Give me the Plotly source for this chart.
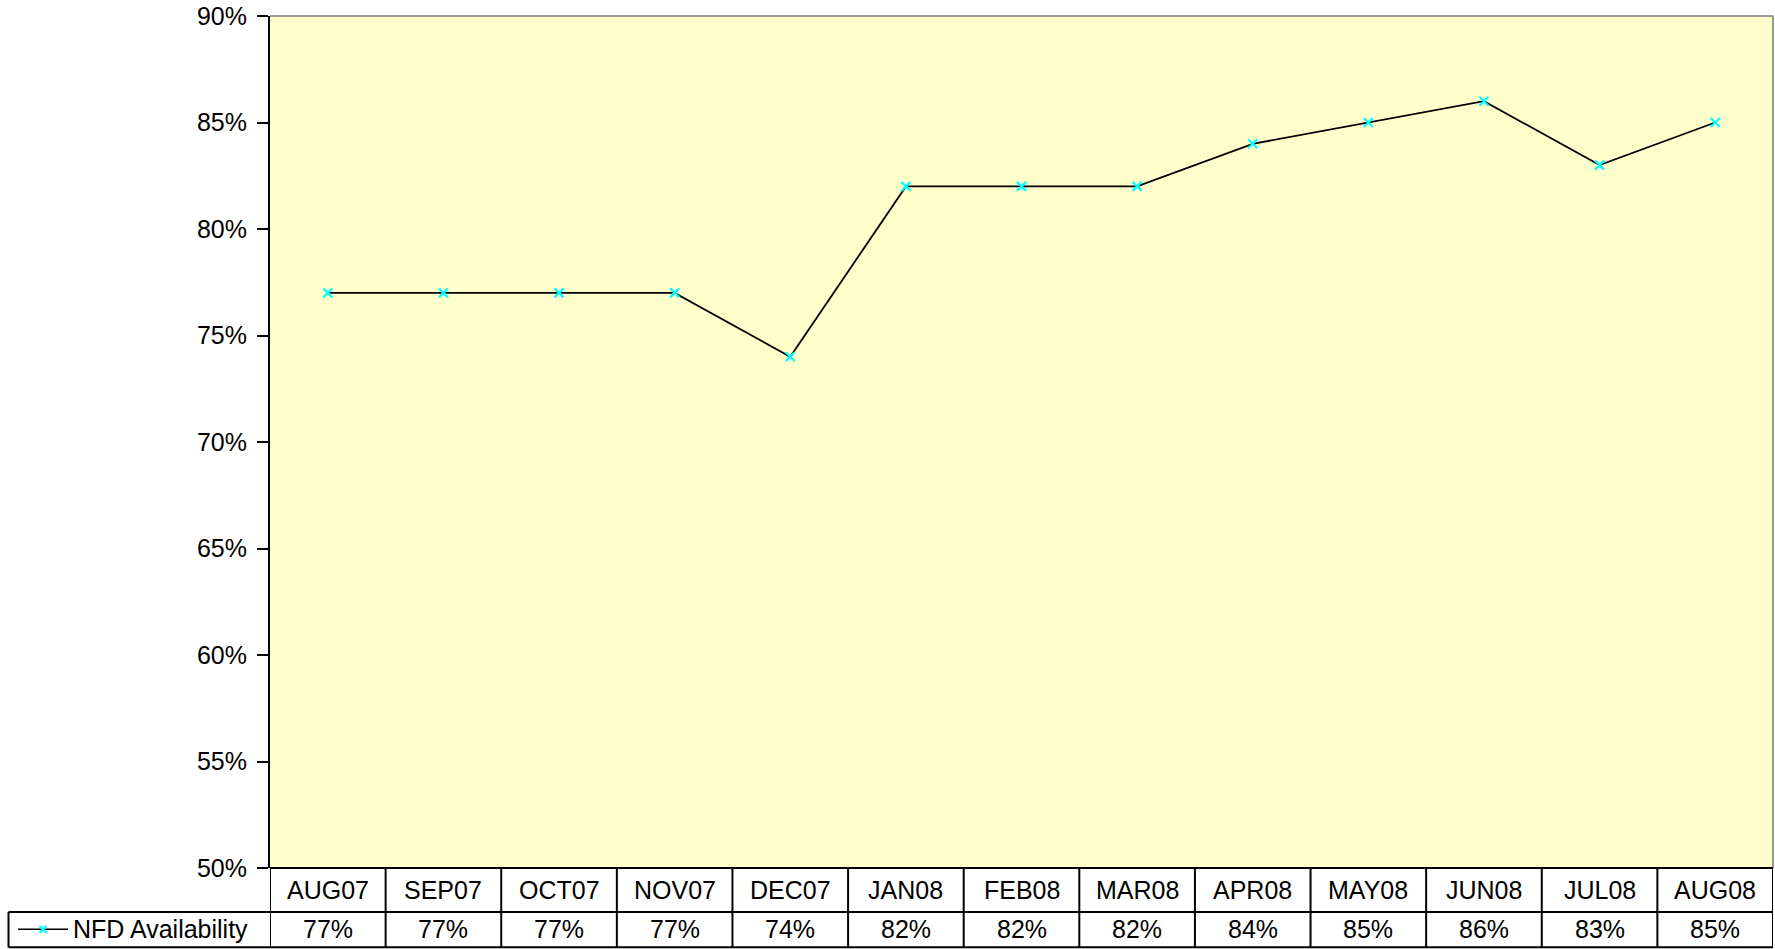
import plotly.graph_objects as go

months = ["AUG07", "SEP07", "OCT07", "NOV07", "DEC07", "JAN08", "FEB08",
          "MAR08", "APR08", "MAY08", "JUN08", "JUL08", "AUG08"]
availability = [77, 77, 77, 77, 74, 82, 82, 82, 84, 85, 86, 83, 85]
series_name = "NFD Availability"
y_ticks = [50, 55, 60, 65, 70, 75, 80, 85, 90]

W, H = 1775, 949
L, R, T, B = 270, 1773, 14, 868
plot_h = B - T
plot_w = R - L

def py(pix):
    return (B - pix) / plot_h

def px(pix):
    return (pix - L) / plot_w

FONT = "Liberation Sans, Arial, sans-serif"
FS = 25
idx = list(range(len(months)))

fig = go.Figure()
fig.add_trace(go.Scatter(
    x=idx, y=availability, mode="lines+markers", name=series_name,
    line=dict(color="black", width=1.8),
    marker=dict(symbol="x-thin", size=9, color="#00FFFF",
                line=dict(color="#00FFFF", width=2.2)),
    showlegend=False, cliponaxis=False,
))

shapes = []
row1_bot = py(912)
row2_bot = py(947.5)
# plot border (top & right gray)
shapes.append(dict(type="line", xref="paper", yref="paper", x0=0, x1=1, y0=1, y1=1,
                   line=dict(color="#999999", width=2)))
shapes.append(dict(type="line", xref="paper", yref="paper", x0=1, x1=1, y0=0, y1=1,
                   line=dict(color="#999999", width=2)))
# table horizontal lines
for yv in [0, row1_bot, row2_bot]:
    shapes.append(dict(type="line", xref="paper", yref="paper", x0=0, x1=1, y0=yv, y1=yv,
                       line=dict(color="black", width=2)))
# legend cell
leg_x0 = px(8.5)
shapes.append(dict(type="line", xref="paper", yref="paper", x0=leg_x0, x1=0,
                   y0=row1_bot, y1=row1_bot, line=dict(color="black", width=2)))
shapes.append(dict(type="line", xref="paper", yref="paper", x0=leg_x0, x1=0,
                   y0=row2_bot, y1=row2_bot, line=dict(color="black", width=2)))
shapes.append(dict(type="line", xref="paper", yref="paper", x0=leg_x0, x1=leg_x0,
                   y0=row1_bot, y1=row2_bot, line=dict(color="black", width=2)))
# column separators
for i in range(len(months) + 1):
    shapes.append(dict(type="line", xref="x", yref="paper", x0=i - 0.5, x1=i - 0.5,
                       y0=row2_bot, y1=0, line=dict(color="black", width=2)))
# legend symbol: line + cyan cross
ly_pix = 929.5
ly = py(ly_pix)
shapes.append(dict(type="line", xref="paper", yref="paper", x0=px(18), x1=px(68),
                   y0=ly, y1=ly, line=dict(color="black", width=1.5)))
for d in (1, -1):
    shapes.append(dict(type="line", xref="paper", yref="paper",
                       x0=px(43 - 3.5), x1=px(43 + 3.5),
                       y0=py(ly_pix - 3.5 * d), y1=py(ly_pix + 3.5 * d),
                       line=dict(color="#00FFFF", width=2.2)))

annotations = []
r1c = py(890.5)
for i, m in enumerate(months):
    annotations.append(dict(x=i, y=r1c, xref="x", yref="paper", text=m, showarrow=False,
                            font=dict(family=FONT, size=FS, color="black"),
                            xanchor="center", yanchor="middle"))
    annotations.append(dict(x=i, y=ly, xref="x", yref="paper", text=f"{availability[i]}%",
                            showarrow=False, font=dict(family=FONT, size=FS, color="black"),
                            xanchor="center", yanchor="middle"))
annotations.append(dict(x=px(71), y=ly, xref="paper", yref="paper", text=series_name,
                        showarrow=False, font=dict(family=FONT, size=FS, color="black"),
                        xanchor="left", yanchor="middle"))

fig.update_layout(
    width=W, height=H,
    margin=dict(l=L, r=W - R, t=T, b=H - B, pad=0),
    paper_bgcolor="white", plot_bgcolor="#FFFFCC",
    font=dict(family=FONT, size=FS, color="black"),
    xaxis=dict(range=[-0.5, len(months) - 0.5], showticklabels=False, showgrid=False,
               zeroline=False, showline=False, ticks=""),
    yaxis=dict(range=[50, 90], tickvals=y_ticks, ticktext=[f"{v}%" for v in y_ticks],
               showgrid=False, zeroline=False, showline=True, linecolor="black",
               linewidth=2, ticks="outside", ticklen=11, tickcolor="black", tickwidth=1.5,
               ticklabelstandoff=5, ticklabeloverflow="allow",
               tickfont=dict(family=FONT, size=FS, color="black")),
    shapes=shapes, annotations=annotations,
)

fig.write_html("out.html", config={"displayModeBar": False},
               post_script="document.body.style.margin='0';document.body.style.overflow='hidden';")
